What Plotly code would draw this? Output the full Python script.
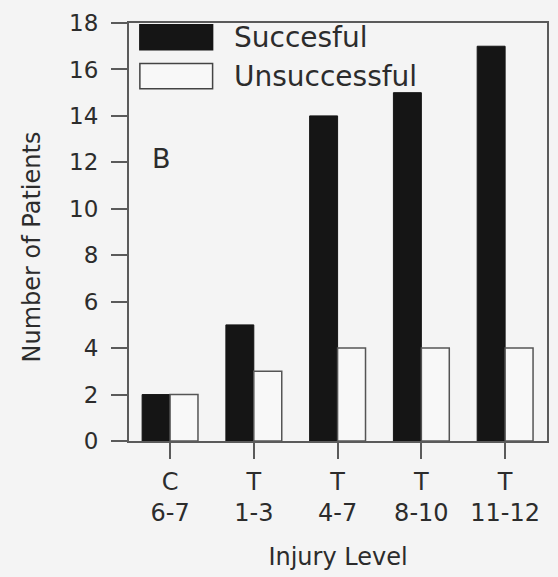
import plotly.graph_objects as go

# Injury level groups and patient counts
levels = ["C<br>6-7", "T<br>1-3", "T<br>4-7", "T<br>8-10", "T<br>11-12"]
successful = [2, 5, 14, 15, 17]
unsuccessful = [2, 3, 4, 4, 4]
y_ticks = [0, 2, 4, 6, 8, 10, 12, 14, 16, 18]

FONT = "DejaVu Sans"
TEXT = "#2c2c2c"
LINE = "#5a5a5a"
BG = "#f4f4f4"

x_idx = list(range(len(levels)))

fig = go.Figure()
fig.add_trace(go.Bar(
    x=x_idx, y=successful, name="Succesful",
    marker=dict(color="#151515", line=dict(color="#151515", width=1)),
))
fig.add_trace(go.Bar(
    x=x_idx, y=unsuccessful, name="Unsuccessful",
    marker=dict(color="#f8f8f8", line=dict(color="#555555", width=1.5)),
))

# Legend drawn as boxes with labels in the upper-left corner
legend_items = [("Succesful", "#151515", "#151515", 0.966),
                ("Unsuccessful", "#f8f8f8", "#444444", 0.873)]
for label, fill, outline, yc in legend_items:
    fig.add_shape(type="rect", xref="paper", yref="paper",
                  x0=0.026, x1=0.2, y0=yc - 0.03, y1=yc + 0.03,
                  fillcolor=fill, line=dict(color=outline, width=1.5))
    fig.add_annotation(x=0.247, y=yc, xref="paper", yref="paper",
                       text=label, showarrow=False, xanchor="left",
                       yanchor="middle",
                       font=dict(family=FONT, size=28, color=TEXT))

# Panel letter
fig.add_annotation(x=0.077, y=0.675, xref="paper", yref="paper",
                   text="B", showarrow=False, xanchor="center",
                   yanchor="middle",
                   font=dict(family=FONT, size=27, color=TEXT))

# Y axis title placed explicitly, a little below the axis midpoint
fig.add_annotation(x=-0.231, y=0.464, xref="paper", yref="paper",
                   text="Number of Patients", showarrow=False,
                   textangle=-90, xanchor="center", yanchor="middle",
                   font=dict(family=FONT, size=24, color=TEXT))

fig.update_layout(
    width=558, height=577,
    margin=dict(l=129, r=9, t=23, b=136),
    paper_bgcolor=BG, plot_bgcolor=BG,
    barmode="group", bargap=0.333, bargroupgap=0,
    showlegend=False,
    font=dict(family=FONT, color=TEXT),
)
fig.update_xaxes(
    range=[-0.49, 4.5], tickmode="array", tickvals=x_idx, ticktext=levels,
    showline=True, mirror=True, linecolor=LINE, linewidth=2,
    ticks="outside", ticklen=16, tickwidth=2, tickcolor=LINE,
    showgrid=False, zeroline=False,
    tickfont=dict(family=FONT, size=24, color=TEXT),
    ticklabelstandoff=2,
    title=dict(text="Injury Level", font=dict(family=FONT, size=24, color=TEXT),
               standoff=22),
)
fig.update_yaxes(
    range=[0, 18], tickmode="array", tickvals=y_ticks,
    showline=True, mirror=True, linecolor=LINE, linewidth=2,
    ticks="outside", ticklen=16, tickwidth=2, tickcolor=LINE,
    showgrid=False, zeroline=False,
    ticklabelstandoff=8,
    tickfont=dict(family=FONT, size=23, color=TEXT),
)

fig.write_html("out.html", config={"displayModeBar": False})
